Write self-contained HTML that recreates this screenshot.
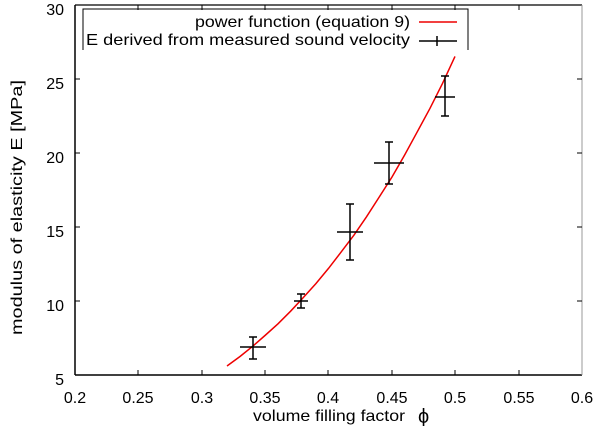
<!DOCTYPE html>
<html><head><style>body{margin:0;background:#fff}svg{display:block}</style></head><body>
<svg width="600" height="426" xmlns="http://www.w3.org/2000/svg" font-family="Liberation Sans, sans-serif" font-size="16">
<rect width="600" height="426" fill="#fff"/>
<line x1="75" y1="5" x2="582" y2="5" stroke="#000" stroke-width="1.2"/>
<line x1="75" y1="5" x2="75" y2="375" stroke="#000" stroke-width="1.5"/>
<line x1="75" y1="375" x2="582" y2="375" stroke="#000" stroke-width="1.5"/>
<line x1="582" y1="5" x2="582" y2="375" stroke="#999" stroke-width="1"/>
<g stroke="#000" stroke-width="1">
<line x1="138" y1="375" x2="138" y2="370"/><line x1="202" y1="375" x2="202" y2="370"/><line x1="265" y1="375" x2="265" y2="370"/><line x1="328" y1="375" x2="328" y2="370"/><line x1="392" y1="375" x2="392" y2="370"/><line x1="455" y1="375" x2="455" y2="370"/><line x1="519" y1="375" x2="519" y2="370"/>
<line x1="138" y1="5" x2="138" y2="10"/><line x1="202" y1="5" x2="202" y2="10"/><line x1="265" y1="5" x2="265" y2="10"/><line x1="328" y1="5" x2="328" y2="10"/><line x1="392" y1="5" x2="392" y2="10"/><line x1="455" y1="5" x2="455" y2="10"/><line x1="519" y1="5" x2="519" y2="10"/>
<line x1="75" y1="79" x2="80" y2="79"/><line x1="75" y1="153" x2="80" y2="153"/><line x1="75" y1="227" x2="80" y2="227"/><line x1="75" y1="301" x2="80" y2="301"/>
<line x1="582" y1="79" x2="577" y2="79"/><line x1="582" y1="153" x2="577" y2="153"/><line x1="582" y1="227" x2="577" y2="227"/><line x1="582" y1="301" x2="577" y2="301"/>
</g>
<g text-anchor="end">
<text x="64" y="15">30</text><text x="64" y="89">25</text><text x="64" y="163">20</text><text x="64" y="237">15</text><text x="64" y="311">10</text><text x="64" y="385">5</text>
</g>
<g text-anchor="middle">
<text x="75" y="403">0.2</text><text x="138" y="403">0.25</text><text x="202" y="403">0.3</text><text x="265" y="403">0.35</text><text x="328" y="403">0.4</text><text x="392" y="403">0.45</text><text x="455" y="403">0.5</text><text x="519" y="403">0.55</text><text x="582" y="403">0.6</text>
</g>
<text x="253" y="421" textLength="152" lengthAdjust="spacingAndGlyphs" font-size="16">volume filling factor</text>
<text x="418" y="423" font-size="20">ϕ</text>
<text transform="translate(22,335) rotate(-90)" textLength="255" lengthAdjust="spacingAndGlyphs" font-size="16">modulus of elasticity E [MPa]</text>
<path d="M83 50 V9 H468 V50" fill="none" stroke="#000" stroke-width="1"/>
<text x="195" y="27" textLength="215" lengthAdjust="spacingAndGlyphs" font-size="16">power function (equation 9)</text>
<text x="86" y="45" textLength="324" lengthAdjust="spacingAndGlyphs" font-size="16">E derived from measured sound velocity</text>
<line x1="419" y1="22" x2="457" y2="22" stroke="#e00" stroke-width="1.5"/>
<line x1="419" y1="41" x2="457" y2="41" stroke="#000" stroke-width="1.5"/><line x1="437" y1="36" x2="437" y2="46" stroke="#000" stroke-width="1.5"/>
<polyline fill="none" stroke="#e00" stroke-width="1.5" points="227,366 240,356.5 252.5,346.4 265,335.5 278,323.8 290.5,311.3 303,297.9 316,283.5 328.5,268.4 341,252.2 354,235.1 366.5,216.8 379,197.4 392,177 404.5,155.2 417,132.3 430,108.3 442.5,83.4 455,56.4"/>
<g stroke="#000" stroke-width="1.5" fill="none">
<path d="M240,347 H266 M253,337 V359 M249,337 H257 M249,359 H257"/>
<path d="M294,301 H308 M301,294 V308 M297,294 H305 M297,308 H305"/>
<path d="M337,232 H363 M350,204 V260 M346,204 H354 M346,260 H354"/>
<path d="M374,163 H404 M389,142 V184 M385,142 H393 M385,184 H393"/>
<path d="M435,97 H455 M445,76 V116 M441,76 H449 M441,116 H449"/>
</g>
</svg>
</body></html>
